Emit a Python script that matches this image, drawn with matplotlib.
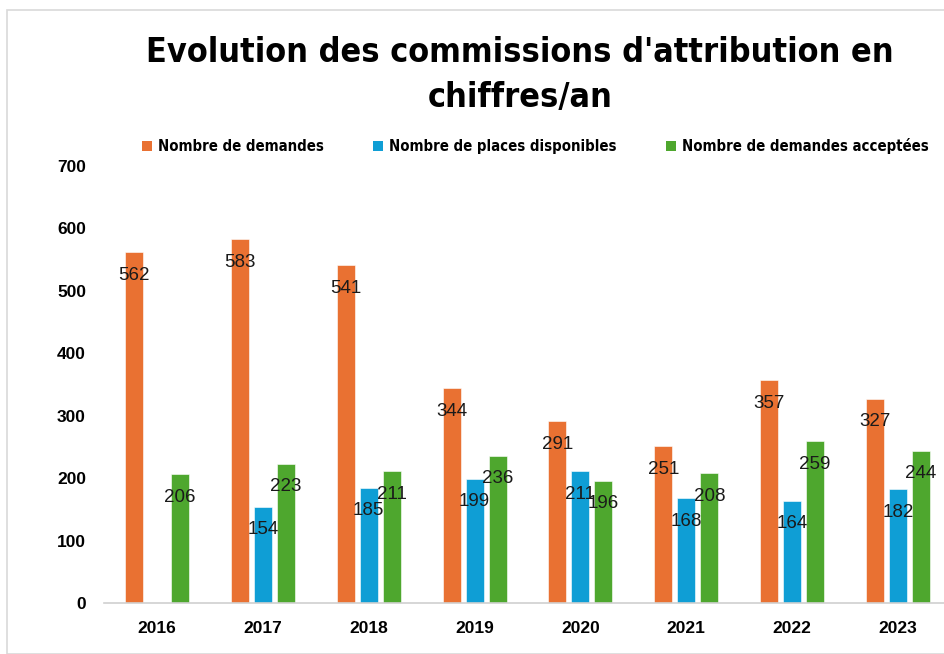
import matplotlib
matplotlib.use("Agg")
import matplotlib.pyplot as plt
import numpy as np
from matplotlib.patches import Rectangle, Patch

years = ["2016", "2017", "2018", "2019", "2020", "2021", "2022", "2023"]
demandes = [562, 583, 541, 344, 291, 251, 357, 327]
places = [None, 154, 185, 199, 211, 168, 164, 182]
acceptees = [206, 223, 211, 236, 196, 208, 259, 244]
series_names = ["Nombre de demandes", "Nombre de places disponibles", "Nombre de demandes acceptées"]
colors = ["#E97132", "#0F9ED5", "#4EA72E"]
yticks = [0, 100, 200, 300, 400, 500, 600, 700]
title = "Evolution des commissions d'attribution en\nchiffres/an"

fig = plt.figure(figsize=(9.44, 6.54), dpi=100)
fig.patches.append(Rectangle((7/944, 0), 1, 1 - 10/654, transform=fig.transFigure,
                             fill=False, edgecolor="#d9d9d9", linewidth=1.2))

ax = fig.add_axes([104/944, 51/654, 847/944, 437/654])
x = np.arange(len(years))
step = 0.217
width = 0.17
for i, (vals, c) in enumerate(zip([demandes, places, acceptees], colors)):
    xs = [xi + (i - 1) * step for xi, v in zip(x, vals) if v is not None]
    vs = [v for v in vals if v is not None]
    ax.bar(xs, vs, width=width, color=c, edgecolor="white", linewidth=0.4, zorder=2)
    for xb, v in zip(xs, vs):
        ax.annotate(str(v), (xb, v), xytext=(0, -23), textcoords="offset pixels",
                    ha="center", va="center", fontsize=13.5, color="#1a1a1a",
                    family="Liberation Sans", zorder=3)

ax.set_xlim(-0.5, 7.5)
ax.set_ylim(0, 700)
ax.set_yticks(yticks)
ax.set_yticklabels([str(t) for t in yticks], fontsize=12.5, fontweight="bold", family="Liberation Sans")
ax.set_xticks(x)
ax.set_xticklabels(years, fontsize=12.5, fontweight="bold", family="Liberation Sans")
ax.tick_params(axis="both", length=0)
ax.tick_params(axis="y", pad=13)
ax.tick_params(axis="x", pad=13)
for s in ["top", "right", "left"]:
    ax.spines[s].set_visible(False)
ax.spines["bottom"].set_color("#d0d0d0")
ax.spines["bottom"].set_linewidth(1.2)

fig.text(520/944, 1 - 75/654, title, ha="center", va="center", fontsize=24.5,
         fontweight="bold", family="DejaVu Sans", fontstretch="condensed", linespacing=1.5)

handles = [Patch(facecolor=c, edgecolor="none") for c in colors]
fig.legend(handles, series_names, loc="center", bbox_to_anchor=(0.567, 1 - 146/654), ncol=3,
           frameon=False, prop={"family": "DejaVu Sans", "stretch": "condensed", "weight": "bold", "size": 10.7},
           handlelength=0.7, handleheight=0.7, handletextpad=0.4, columnspacing=3.3)

fig.savefig("out.png", dpi=100)
